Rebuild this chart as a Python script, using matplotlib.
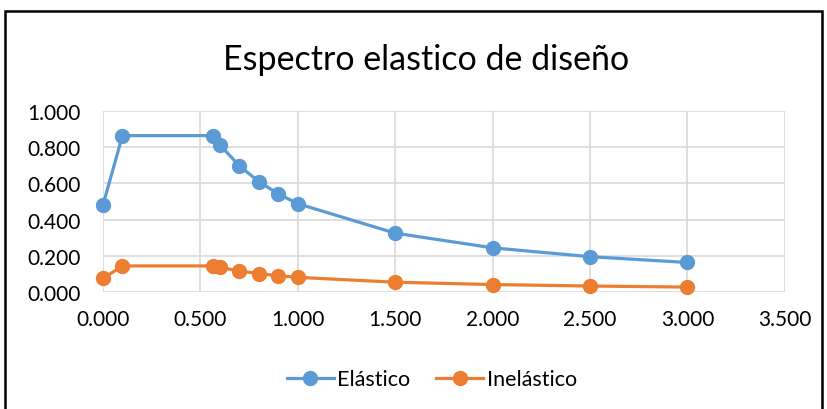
import matplotlib
matplotlib.use("Agg")
import matplotlib.pyplot as plt
from matplotlib.patches import Rectangle

plt.rcParams['font.family'] = ['Lato', 'DejaVu Sans']

periods = [0.0, 0.1, 0.565, 0.6, 0.7, 0.8, 0.9, 1.0, 1.5, 2.0, 2.5, 3.0]
elastico = [0.48, 0.864, 0.864, 0.813, 0.697, 0.610, 0.542, 0.488, 0.325, 0.244, 0.195, 0.163]
inelastico = [0.075, 0.144, 0.144, 0.136, 0.116, 0.102, 0.090, 0.081, 0.054, 0.041, 0.033, 0.027]

blue = '#5B9BD5'
orange = '#ED7D31'

fig = plt.figure(figsize=(8.27, 4.10), dpi=100)
ax = fig.add_axes([0.1245, 0.2854, 0.949 - 0.1245, 0.7268 - 0.2854])

ax.plot(periods, elastico, color=blue, lw=2.3, marker='o', ms=10, label='Elástico')
ax.plot(periods, inelastico, color=orange, lw=2.3, marker='o', ms=10, label='Inelástico')

ax.set_xlim(0, 3.5)
ax.set_ylim(0, 1.0)
ax.set_xticks([0, 0.5, 1.0, 1.5, 2.0, 2.5, 3.0, 3.5])
ax.set_yticks([0, 0.2, 0.4, 0.6, 0.8, 1.0])
ax.xaxis.set_major_formatter(lambda v, p: f'{v:.3f}')
ax.yaxis.set_major_formatter(lambda v, p: f'{v:.3f}')
ax.tick_params(length=0, labelsize=15, colors='#000000')
ax.tick_params(axis='y', pad=16)
ax.tick_params(axis='x', pad=12)
ax.grid(True, color='#D9D9D9', lw=1.2)
ax.set_axisbelow(True)
for s in ax.spines.values():
    s.set_visible(False)
for c in ax.get_lines():
    c.set_clip_on(False)

fig.text(0.515, 0.853, 'Espectro elastico de diseño', ha='center', va='center', fontsize=24.5)

fig.legend(loc='center', bbox_to_anchor=(0.522, 0.072), ncol=2, frameon=False,
           fontsize=15.5, handlelength=2.2, columnspacing=1.2, handletextpad=0.15)

fig.patches.append(Rectangle((5 / 827, -0.1), 817 / 827, 1.1 - 12 / 410, transform=fig.transFigure,
                             fill=False, edgecolor='black', lw=1.8, clip_on=False))

fig.savefig('out.png', dpi=100)
